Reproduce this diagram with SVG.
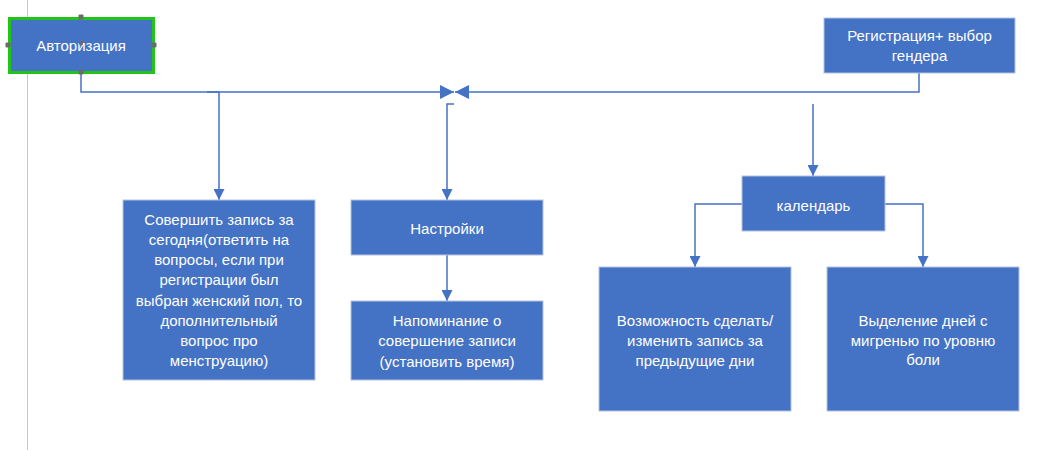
<svg xmlns="http://www.w3.org/2000/svg" width="1055" height="450" viewBox="0 0 1055 450">
<defs>
<style>
.box{fill:#4472C4;stroke:#B4C3E0;stroke-width:1}
.t{fill:#ffffff;font-family:"Liberation Sans",Arial,sans-serif;font-size:15px;text-anchor:middle;dominant-baseline:central}
.c{fill:none;stroke:#4472C4;stroke-width:1.5}
.h{fill:#6b6b6b}
</style>
<marker id="ar" viewBox="0 0 10 10" refX="10" refY="5" markerWidth="11" markerHeight="11" markerUnits="userSpaceOnUse" orient="auto">
<path d="M0,0 L10,5 L0,10 z" fill="#4472C4"/>
</marker>
<marker id="ar2" viewBox="0 0 10 10" refX="10" refY="5" markerWidth="14" markerHeight="14" markerUnits="userSpaceOnUse" orient="auto">
<path d="M0,0 L10,5 L0,10 z" fill="#4472C4"/>
</marker>
</defs>
<rect width="1055" height="450" fill="#ffffff"/>
<line x1="27.5" y1="0" x2="27.5" y2="450" stroke="#c8c8c8" stroke-width="1"/>
<g id="connectors">
<path class="c" d="M81,74 V92 H454" marker-end="url(#ar2)"/>
<path class="c" d="M919,73 V92 H455" marker-end="url(#ar2)"/>
<path class="c" d="M207,92 H219 V200" marker-end="url(#ar)"/>
<path class="c" d="M454,104 H447 V200" marker-end="url(#ar)"/>
<path class="c" d="M447,255 V301" marker-end="url(#ar)"/>
<path class="c" d="M813,104 V176" marker-end="url(#ar)"/>
<path class="c" d="M742,204 H695 V267" marker-end="url(#ar)"/>
<path class="c" d="M885,204 H923 V267" marker-end="url(#ar)"/>
</g>
<g id="auth">
<rect x="9.5" y="18.5" width="144" height="54" fill="#4472C4" stroke="#22C41A" stroke-width="3"/>
<text class="t" x="81" y="45">Авторизация</text>
<rect class="h" x="78.5" y="14.5" width="5" height="5" rx="1"/>
<rect class="h" x="5.5" y="42.5" width="5" height="5" rx="1"/>
<rect class="h" x="151.5" y="42.5" width="5" height="5" rx="1"/>
<rect class="h" x="78.5" y="69.5" width="5" height="5" rx="1"/>
<rect class="h" x="79" y="41" width="4" height="4" rx="1"/>
</g>
<g id="reg">
<rect class="box" x="824" y="18" width="191" height="55"/>
<text class="t" x="919.5" y="35">Регистрация+ выбор</text>
<text class="t" x="919.5" y="55">гендера</text>
</g>
<g id="today">
<rect class="box" x="123" y="200" width="192" height="180"/>
<text class="t" x="219" y="219">Совершить запись за</text>
<text class="t" x="219" y="239">сегодня(ответить на</text>
<text class="t" x="219" y="259">вопросы, если при</text>
<text class="t" x="219" y="279">регистрации был</text>
<text class="t" x="219" y="300">выбран женский пол, то</text>
<text class="t" x="219" y="320">дополнительный</text>
<text class="t" x="219" y="340">вопрос про</text>
<text class="t" x="219" y="360">менструацию)</text>
</g>
<g id="settings">
<rect class="box" x="351" y="200" width="192" height="55"/>
<text class="t" x="447" y="228">Настройки</text>
</g>
<g id="reminder">
<rect class="box" x="351" y="301" width="192" height="79"/>
<text class="t" x="447" y="320">Напоминание о</text>
<text class="t" x="447" y="340">совершение записи</text>
<text class="t" x="447" y="361">(установить время)</text>
</g>
<g id="calendar">
<rect class="box" x="742" y="176" width="143" height="55"/>
<text class="t" x="813.5" y="205">календарь</text>
</g>
<g id="edit">
<rect class="box" x="599" y="267" width="192" height="144"/>
<text class="t" x="695" y="320">Возможность сделать/</text>
<text class="t" x="695" y="340">изменить запись за</text>
<text class="t" x="695" y="360">предыдущие дни</text>
</g>
<g id="migraine">
<rect class="box" x="827" y="267" width="192" height="144"/>
<text class="t" x="923" y="320">Выделение дней с</text>
<text class="t" x="923" y="340">мигренью по уровню</text>
<text class="t" x="923" y="359">боли</text>
</g>
</svg>
